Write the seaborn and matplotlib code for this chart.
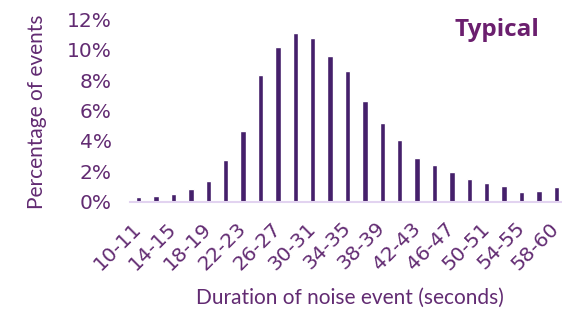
import numpy as np
import pandas as pd
import seaborn as sns
import matplotlib.pyplot as plt

# duration bins (seconds) and share of events (%)
bins = ['10-11', '12-13', '14-15', '16-17', '18-19', '20-21', '22-23', '24-25',
        '26-27', '28-29', '30-31', '32-33', '34-35', '36-37', '38-39', '40-41',
        '42-43', '44-45', '46-47', '48-49', '50-51', '52-53', '54-55', '56-57',
        '58-60']
pct = [0.29, 0.37, 0.53, 0.86, 1.36, 2.74, 4.63, 8.33, 10.2, 11.08, 10.8,
       9.6, 8.6, 6.6, 5.2, 4.04, 2.87, 2.39, 1.93, 1.49, 1.21, 1.03, 0.66,
       0.68, 0.97]
yticks = [0, 2, 4, 6, 8, 10, 12]

df = pd.DataFrame({'bin': bins, 'pct': pct})

sns.set_style('white')
plt.rcParams['font.family'] = ['Lato', 'DejaVu Sans']

txt = '#622b72'
bar = '#45206b'

fig = plt.figure(figsize=(5.62, 3.10), dpi=100)
ax = fig.add_axes([130 / 562, 1 - 201.7 / 310, (565 - 130) / 562, (201.7 - 19.3) / 310])

sns.barplot(data=df, x='bin', y='pct', color=bar, width=0.3, saturation=1, ax=ax)

ax.set_ylim(0, 12)
ax.set_xlim(-0.5, len(bins) - 0.5)
ax.set_yticks(yticks)
ax.set_yticklabels([f'{v}%' for v in yticks], color=txt, fontsize=14.5,
                   family='DejaVu Sans')
ax.set_xticks(range(0, len(bins), 2))
ax.set_xticklabels(bins[::2], rotation=45, ha='right', va='center',
                   rotation_mode='anchor', color=txt, fontsize=14.5,
                   family='DejaVu Sans')
ax.tick_params(axis='both', length=0)
ax.tick_params(axis='x', pad=17)
ax.tick_params(axis='y', pad=13)

sns.despine(ax=ax, left=True, top=True, right=True)
ax.spines['bottom'].set_color('#e2d3f0')
ax.spines['bottom'].set_linewidth(1.5)

ax.set_xlabel('Duration of noise event (seconds)', color=txt, fontsize=15)
ax.set_ylabel('Percentage of events', color=txt, fontsize=15)
ax.xaxis.set_label_coords((350 - 130) / (565 - 130), -0.473)
ax.yaxis.set_label_coords(-0.191, 0.495)

fig.text(497 / 562, 1 - 36 / 310, 'Typical', color='#6b1f6e', fontsize=17.5,
         fontweight='bold', family='Open Sans', ha='center', va='baseline')

fig.savefig('out.png', dpi=100)
